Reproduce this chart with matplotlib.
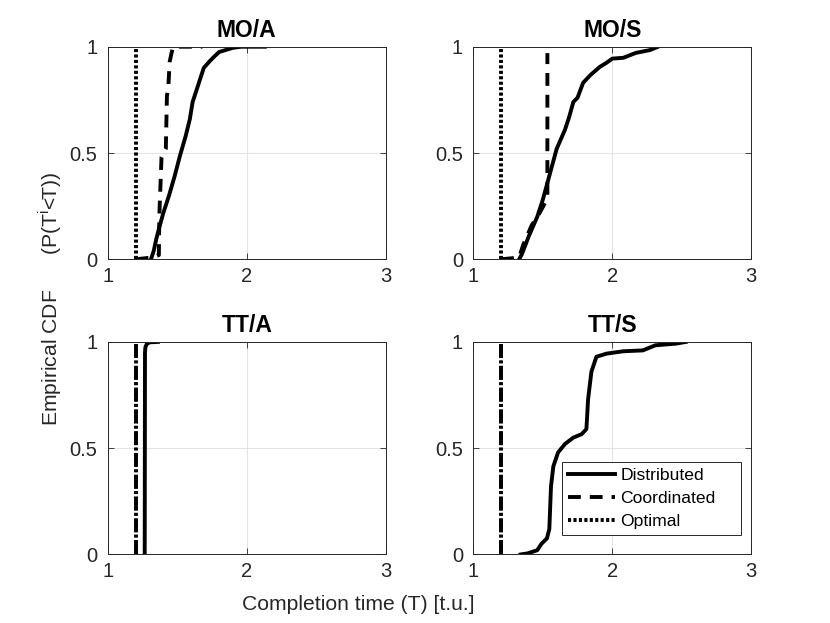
import matplotlib
matplotlib.use('Agg')
import matplotlib.pyplot as plt

plt.rcParams['font.family'] = ['Liberation Sans', 'DejaVu Sans']

titles = ['MO/A', 'MO/S', 'TT/A', 'TT/S']

# distributed completion-time CDFs
moa_dist_t = [1.31, 1.33, 1.35, 1.37, 1.40, 1.44, 1.48, 1.52, 1.56, 1.59, 1.61, 1.64, 1.67, 1.69, 1.73, 1.76, 1.80, 1.85, 1.90, 1.96, 2.00, 2.13]
moa_dist_p = [0.0, 0.04, 0.10, 0.15, 0.22, 0.30, 0.39, 0.49, 0.58, 0.66, 0.74, 0.80, 0.86, 0.90, 0.93, 0.95, 0.975, 0.985, 0.995, 1.0, 1.0, 1.0]

mos_dist_t = [1.33, 1.35, 1.40, 1.46, 1.50, 1.55, 1.60, 1.66, 1.69, 1.72, 1.75, 1.79, 1.84, 1.91, 1.96, 2.00, 2.08, 2.17, 2.27, 2.33]
mos_dist_p = [0.0, 0.025, 0.11, 0.20, 0.28, 0.40, 0.52, 0.61, 0.67, 0.74, 0.76, 0.83, 0.865, 0.905, 0.925, 0.944, 0.948, 0.971, 0.984, 1.0]

tta_dist_t = [1.265, 1.267, 1.27, 1.28, 1.30, 1.36]
tta_dist_p = [0.0, 0.95, 0.975, 0.99, 0.998, 1.0]

tts_dist_t = [1.34, 1.39, 1.46, 1.49, 1.53, 1.547, 1.553, 1.559, 1.576, 1.61, 1.66, 1.72, 1.78, 1.814, 1.826, 1.85, 1.886, 1.96, 2.08, 2.22, 2.31, 2.46, 2.53]
tts_dist_p = [0.0, 0.005, 0.02, 0.05, 0.076, 0.12, 0.22, 0.32, 0.415, 0.48, 0.52, 0.55, 0.566, 0.59, 0.73, 0.86, 0.93, 0.945, 0.956, 0.96, 0.984, 0.992, 1.0]

# coordinated
moa_coord_t = [1.20, 1.27, 1.33, 1.367, 1.37, 1.386, 1.40, 1.417, 1.425, 1.434, 1.445, 1.458, 1.47, 1.68]
moa_coord_p = [0.0, 0.005, 0.01, 0.02, 0.20, 0.48, 0.50, 0.52, 0.77, 0.80, 0.93, 0.97, 1.0, 1.0]

mos_coord_t = [1.20, 1.28, 1.33, 1.36, 1.42, 1.47, 1.52, 1.533, 1.533]
mos_coord_p = [0.0, 0.005, 0.01, 0.07, 0.16, 0.21, 0.27, 0.30, 0.97]

tta_coord_t = [1.20, 1.20]
tta_coord_p = [0.0, 1.0]

tts_coord_t = [1.20, 1.20]
tts_coord_p = [0.0, 1.0]

# optimal
opt_t = [1.20, 1.20]
opt_p = [0.0, 1.0]

dist = [(moa_dist_t, moa_dist_p), (mos_dist_t, mos_dist_p), (tta_dist_t, tta_dist_p), (tts_dist_t, tts_dist_p)]
coord = [(moa_coord_t, moa_coord_p), (mos_coord_t, mos_coord_p), (tta_coord_t, tta_coord_p), (tts_coord_t, tts_coord_p)]

fig = plt.figure(figsize=(8.3, 6.23), dpi=100)
positions = [[0.13, 0.5838, 0.3347, 0.3412], [0.5703, 0.5838, 0.3347, 0.3412],
             [0.13, 0.11, 0.3347, 0.3412], [0.5703, 0.11, 0.3347, 0.3412]]

lw = 2.8
for i in range(4):
    ax = fig.add_axes(positions[i])
    l1, = ax.plot(dist[i][0], dist[i][1], color='black', lw=lw, ls='-', label='Distributed')
    l2, = ax.plot(coord[i][0], coord[i][1], color='black', lw=lw, ls=(0, (3.3, 2.3)), label='Coordinated')
    l3, = ax.plot(opt_t, opt_p, color='black', lw=lw, ls=(0, (0.8, 0.6)), label='Optimal')
    ax.set_xlim(1, 3)
    ax.set_ylim(0, 1)
    ax.set_xticks([1, 2, 3])
    ax.set_yticks([0, 0.5, 1])
    ax.set_xticklabels(['1', '2', '3'])
    ax.set_yticklabels(['0', '0.5', '1'])
    ax.grid(True, color='#e3e3e3', lw=0.8)
    ax.set_axisbelow(True)
    ax.tick_params(direction='in', top=True, right=True, length=4, width=0.6,
                   labelsize=14.5, colors='#262626')
    ax.tick_params(axis='x', pad=5.5)
    ax.tick_params(axis='y', pad=7.5)
    for s in ax.spines.values():
        s.set_linewidth(0.7)
        s.set_color('#262626')
    ax.set_title(titles[i], fontsize=16.5, fontweight='bold', pad=7)
    if i == 3:
        leg = ax.legend(handles=[l1, l2, l3], loc='lower left', bbox_to_anchor=(0.318, 0.09, 0.646, 0.35),
                        mode='expand', borderaxespad=0, fontsize=12.6, handlelength=2.7, fancybox=False,
                        framealpha=1, edgecolor='#262626', borderpad=0.35, labelspacing=0.45,
                        handletextpad=0.3)
        leg.get_frame().set_linewidth(0.7)

fig.text(50 / 830, 1 - 299 / 623, 'Empirical CDF      (P(T$^\\mathregular{i}$<T))', rotation=90,
         ha='center', va='center', fontsize=15.2, color='#262626')
fig.text(358 / 830, 1 - 605 / 623, 'Completion time (T) [t.u.]', ha='center', va='center',
         fontsize=15.2, color='#262626')

plt.savefig('out.png', dpi=100)
plt.close()
